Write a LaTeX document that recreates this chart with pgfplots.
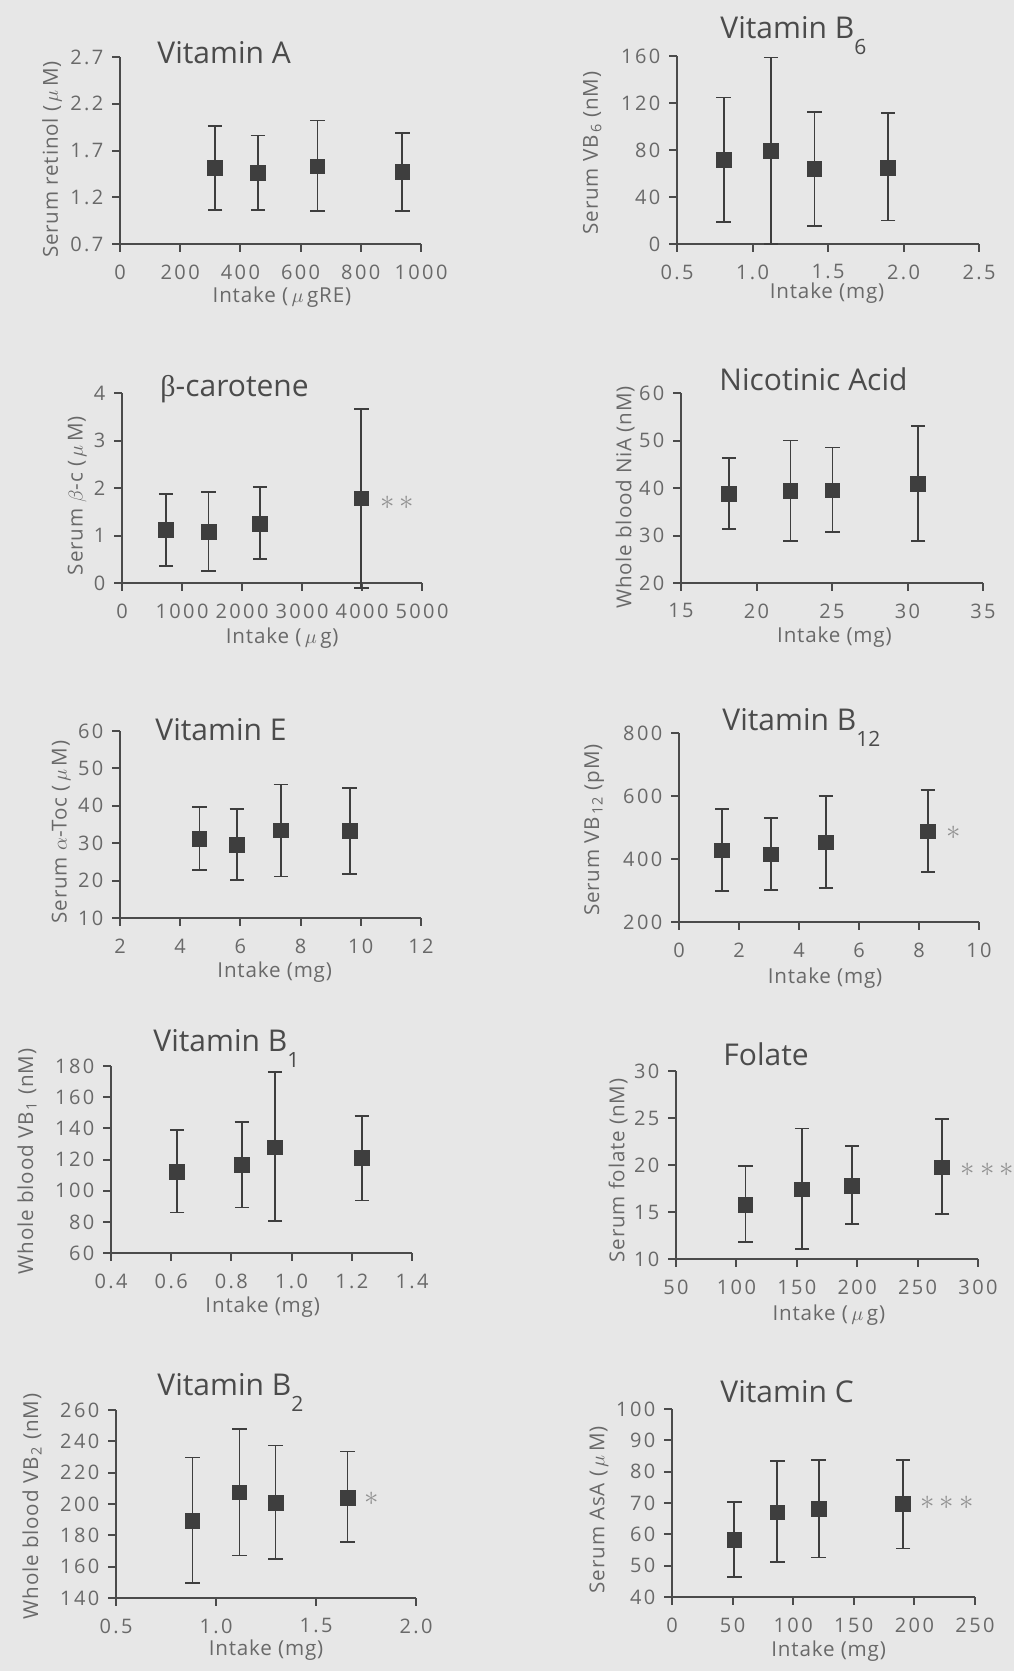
\documentclass[border=0pt]{standalone}
\usepackage{pgfplots}
\pgfplotsset{compat=1.18}
\usepackage{fontspec}
\setmainfont{Open Sans}
\newfontfamily\tickfont[LetterSpace=12]{Open Sans}
\newfontfamily\labfont[LetterSpace=4]{Open Sans}
\newfontfamily\greekserif{Liberation Serif}
\definecolor{bg}{RGB}{231,231,231}
\definecolor{axc}{RGB}{75,75,75}
\definecolor{tickc}{RGB}{105,105,105}
\definecolor{titlec}{RGB}{75,75,75}
\definecolor{markc}{RGB}{62,62,62}
\definecolor{starc}{RGB}{145,145,145}
\tikzset{starnode/.style={text=starc, font=\Large, inner sep=0pt}}
\pgfplotsset{
 panel/.style={
  scale only axis,
  axis x line*=bottom, axis y line*=left,
  axis line style={-, axc, line width=1pt},
  tick align=outside,
  major tick length=3.8pt,
  tick style={axc, line width=1pt},
  every tick label/.append style={font=\tickfont\fontsize{10}{10}\selectfont, text=tickc},
  xticklabel style={yshift=-3pt},
  yticklabel style={xshift=-1pt},
  /pgf/number format/assume math mode=true,
  label style={font=\labfont\fontsize{10.3}{10.3}\selectfont, text=tickc},
  clip=false,
  minor tick num=0,
 },
 dat/.style={only marks, mark=square*, mark size=3.7pt, color=markc,
   error bars/.cd, y dir=both, y explicit,
   error bar style={line width=0.85pt, markc},
   error mark options={rotate=90, mark size=3.6pt, line width=0.85pt, markc}},
}
\newcommand{\ttl}{\fontsize{15}{15}\selectfont}
\newcommand{\sub}[1]{\raisebox{-8pt}{\fontsize{10.5}{10.5}\selectfont #1}}
\begin{document}
\begin{tikzpicture}
\useasboundingbox (0,0) rectangle (507pt,-835.5pt);
\fill[bg] (0,0) rectangle (507pt,-835.5pt);

% 1 Vitamin A
\begin{axis}[panel, at={(60pt,-122pt)}, anchor=south west, width=150.5pt, height=93.5pt,
  xmin=0, xmax=1000, xtick={0,200,400,600,800,1000}, xticklabels={0,200,400,600,800,1000},
  ymin=0.7, ymax=2.7, ytick={0.7,1.2,1.7,2.2,2.7}, yticklabels={0.7,1.2,1.7,2.2,2.7},
  xlabel={Intake (\,$\mu$\,gRE)}, ylabel={Serum retinol (\,$\mu$\,M)},
  xlabel style={at={(axis description cs:0.538,-0.283)}, anchor=center},
  ylabel style={at={(axis description cs:-0.226,0.452)}, anchor=center}]
\addplot[dat] coordinates {
 (316,1.51) += (0,0.45) -= (0,0.443)
 (458,1.46) += (0,0.40) -= (0,0.40)
 (656,1.53) += (0,0.49) -= (0,0.48)
 (938,1.47) += (0,0.42) -= (0,0.42)
};
\end{axis}

% 2 Vitamin B6
\begin{axis}[panel, at={(338.5pt,-122pt)}, anchor=south west, width=151pt, height=94pt,
  xmin=0.5, xmax=2.5, xtick={0.5,1,1.5,2,2.5}, xticklabels={0.5,1.0,1.5,2.0,2.5},
  ymin=0, ymax=160, ytick={0,40,80,120,160}, yticklabels={0,40,80,120,160},
  xlabel={Intake (mg)}, ylabel={Serum VB\textsubscript{\,6} (nM)},
  xlabel style={at={(axis description cs:0.497,-0.261)}, anchor=center},
  ylabel style={at={(axis description cs:-0.281,0.484)}, anchor=center}]
\addplot[dat] coordinates {
 (0.809,71.5) += (0,53.3) -= (0,52.5)
 (1.123,79.4) += (0,79.2) -= (0,79.4)
 (1.41,63.8) += (0,48.5) -= (0,48.5)
 (1.899,65) += (0,46.2) -= (0,45.1)
};
\end{axis}

% 3 beta-carotene
\begin{axis}[panel, at={(61pt,-291.5pt)}, anchor=south west, width=150pt, height=95pt,
  xmin=0, xmax=5000, xtick={0,1000,2000,3000,4000,5000}, xticklabels={0,1000,2000,3000,4000,5000},
  ymin=0, ymax=4, ytick={0,1,2,3,4}, yticklabels={0,1,2,3,4},
  xlabel={Intake (\,$\mu$\,g)}, ylabel={Serum $\beta$-c (\,$\mu$\,M)},
  xlabel style={at={(axis description cs:0.534,-0.289)}, anchor=center},
  ylabel style={at={(axis description cs:-0.150,0.46)}, anchor=center}]
\addplot[dat] coordinates {
 (733,1.11) += (0,0.76) -= (0,0.745)
 (1444,1.07) += (0,0.85) -= (0,0.82)
 (2300,1.25) += (0,0.77) -= (0,0.74)
 (3989,1.78) += (0,1.89) -= (0,1.88)
};
\node[starnode] at (axis cs:4583,1.68) {${\ast}\,{\ast}$};
\end{axis}

% 4 Nicotinic acid
\begin{axis}[panel, at={(340.5pt,-291.5pt)}, anchor=south west, width=151pt, height=95pt,
  xmin=15, xmax=35, xtick={15,20,25,30,35}, xticklabels={15,20,25,30,35},
  ymin=20, ymax=60, ytick={20,30,40,50,60}, yticklabels={20,30,40,50,60},
  xlabel={Intake (mg)}, ylabel={Whole blood NiA (nM)},
  xlabel style={at={(axis description cs:0.508,-0.283)}, anchor=center},
  ylabel style={at={(axis description cs:-0.185,0.45)}, anchor=center}]
\addplot[dat] coordinates {
 (18.18,38.7) += (0,7.6) -= (0,7.3)
 (22.25,39.4) += (0,10.6) -= (0,10.5)
 (25.03,39.5) += (0,9.0) -= (0,8.7)
 (30.71,40.9) += (0,12.2) -= (0,12.0)
};
\end{axis}

% 5 Vitamin E
\begin{axis}[panel, at={(60pt,-459pt)}, anchor=south west, width=150.5pt, height=93.5pt,
  xmin=2, xmax=12, xtick={2,4,6,8,10,12}, xticklabels={2,4,6,8,10,12},
  ymin=10, ymax=60, ytick={10,20,30,40,50,60}, yticklabels={10,20,30,40,50,60},
  xlabel={Intake (mg)}, ylabel={Serum $\alpha$-Toc (\,$\mu$\,M)},
  xlabel style={at={(axis description cs:0.514,-0.287)}, anchor=center},
  ylabel style={at={(axis description cs:-0.196,0.46)}, anchor=center}]
\addplot[dat] coordinates {
 (4.64,31.1) += (0,8.5) -= (0,8.2)
 (5.88,29.5) += (0,9.7) -= (0,9.3)
 (7.34,33.4) += (0,12.3) -= (0,12.3)
 (9.63,33.2) += (0,11.5) -= (0,11.4)
};
\end{axis}

% 6 Vitamin B12
\begin{axis}[panel, at={(339.5pt,-461pt)}, anchor=south west, width=150pt, height=94.5pt,
  xmin=0, xmax=10, xtick={0,2,4,6,8,10}, xticklabels={0,2,4,6,8,10},
  ymin=200, ymax=800, ytick={200,400,600,800}, yticklabels={200,400,600,800},
  xlabel={Intake (mg)}, ylabel={Serum VB\textsubscript{\,12} (pM)},
  xlabel style={at={(axis description cs:0.487,-0.296)}, anchor=center},
  ylabel style={at={(axis description cs:-0.283,0.487)}, anchor=center}]
\addplot[dat] coordinates {
 (1.44,427.5) += (0,132.3) -= (0,128)
 (3.07,414.8) += (0,115.2) -= (0,112.2)
 (4.89,452.9) += (0,147.1) -= (0,143.9)
 (8.29,487.8) += (0,132.2) -= (0,129.1)
};
\node[starnode] at (axis cs:9.17,482) {${\ast}$};
\end{axis}

% 7 Vitamin B1
\begin{axis}[panel, at={(55.5pt,-626.5pt)}, anchor=south west, width=150.5pt, height=93.5pt,
  xmin=0.4, xmax=1.4, xtick={0.4,0.6,0.8,1.0,1.2,1.4}, xticklabels={0.4,0.6,0.8,1.0,1.2,1.4},
  ymin=60, ymax=180, ytick={60,80,100,120,140,160,180}, yticklabels={60,80,100,120,140,160,180},
  xlabel={Intake (mg)}, ylabel={Whole blood VB\textsubscript{\,1} (nM)},
  xlabel style={at={(axis description cs:0.504,-0.287)}, anchor=center},
  ylabel style={at={(axis description cs:-0.279,0.49)}, anchor=center}]
\addplot[dat] coordinates {
 (0.62,112.2) += (0,26.7) -= (0,26.2)
 (0.835,116.7) += (0,27.5) -= (0,27.5)
 (0.945,127.8) += (0,48.4) -= (0,47.1)
 (1.233,120.8) += (0,27) -= (0,27.1)
};
\end{axis}

% 8 Folate
\begin{axis}[panel, at={(338pt,-629.5pt)}, anchor=south west, width=151pt, height=94pt,
  xmin=50, xmax=300, xtick={50,100,150,200,250,300}, xticklabels={50,100,150,200,250,300},
  ymin=10, ymax=30, ytick={10,15,20,25,30}, yticklabels={10,15,20,25,30},
  xlabel={Intake (\,$\mu$\,g)}, ylabel={Serum folate (nM)},
  xlabel style={at={(axis description cs:0.506,-0.298)}, anchor=center},
  ylabel style={at={(axis description cs:-0.192,0.47)}, anchor=center}]
\addplot[dat] coordinates {
 (107.5,15.74) += (0,4.16) -= (0,3.94)
 (154.4,17.4) += (0,6.5) -= (0,6.34)
 (195.9,17.77) += (0,4.23) -= (0,4.07)
 (270.4,19.75) += (0,5.15) -= (0,4.95)
};
\node[starnode] at (axis cs:307.7,19.47) {${\ast}\,{\ast}\,{\ast}$};
\end{axis}

% 9 Vitamin B2
\begin{axis}[panel, at={(58pt,-799pt)}, anchor=south west, width=150pt, height=94pt,
  xmin=0.5, xmax=2.0, xtick={0.5,1.0,1.5,2.0}, xticklabels={0.5,1.0,1.5,2.0},
  ymin=140, ymax=260, ytick={140,160,180,200,220,240,260}, yticklabels={140,160,180,200,220,240,260},
  xlabel={Intake (mg)}, ylabel={Whole blood VB\textsubscript{\,2} (nM)},
  xlabel style={at={(axis description cs:0.5,-0.277)}, anchor=center},
  ylabel style={at={(axis description cs:-0.28,0.487)}, anchor=center}]
\addplot[dat] coordinates {
 (0.882,189.1) += (0,40.5) -= (0,39.5)
 (1.117,207.4) += (0,40.7) -= (0,40.2)
 (1.298,200.9) += (0,36.5) -= (0,36.2)
 (1.658,204) += (0,29.6) -= (0,28.3)
};
\node[starnode] at (axis cs:1.778,203.6) {${\ast}$};
\end{axis}

% 10 Vitamin C
\begin{axis}[panel, at={(336pt,-798.5pt)}, anchor=south west, width=151.5pt, height=94pt,
  xmin=0, xmax=250, xtick={0,50,100,150,200,250}, xticklabels={0,50,100,150,200,250},
  ymin=40, ymax=100, ytick={40,50,60,70,80,90,100}, yticklabels={40,50,60,70,80,90,100},
  xlabel={Intake (mg)}, ylabel={Serum AsA (\,$\mu$\,M)},
  xlabel style={at={(axis description cs:0.517,-0.29)}, anchor=center},
  ylabel style={at={(axis description cs:-0.241,0.464)}, anchor=center}]
\addplot[dat] coordinates {
 (51.4,58.3) += (0,12.1) -= (0,11.9)
 (86.9,67) += (0,16.4) -= (0,15.8)
 (121,68.1) += (0,15.7) -= (0,15.5)
 (190.6,69.6) += (0,14.2) -= (0,14.1)
};
\node[starnode] at (axis cs:227,70.2) {${\ast}\,{\ast}\,{\ast}$};
\end{axis}

% titles
\begin{scope}[every node/.style={anchor=base west, inner sep=0pt, text=titlec, font=\ttl}]
\node at (78.5pt,-31.5pt) {Vitamin A};
\node at (360pt,-19.2pt) {Vitamin B\sub{6}};
\node at (80pt,-198pt) {{\greekserif β}-carotene};
\node at (359.5pt,-195pt) {Nicotinic Acid};
\node at (77.5pt,-370pt) {Vitamin E};
\node at (361pt,-365.4pt) {Vitamin B\sub{12}};
\node at (76.5pt,-525.9pt) {Vitamin B\sub{1}};
\node at (361.5pt,-532.5pt) {Folate};
\node at (78.5pt,-697.5pt) {Vitamin B\sub{2}};
\node at (360pt,-701.4pt) {Vitamin C};
\end{scope}
\end{tikzpicture}
\end{document}
